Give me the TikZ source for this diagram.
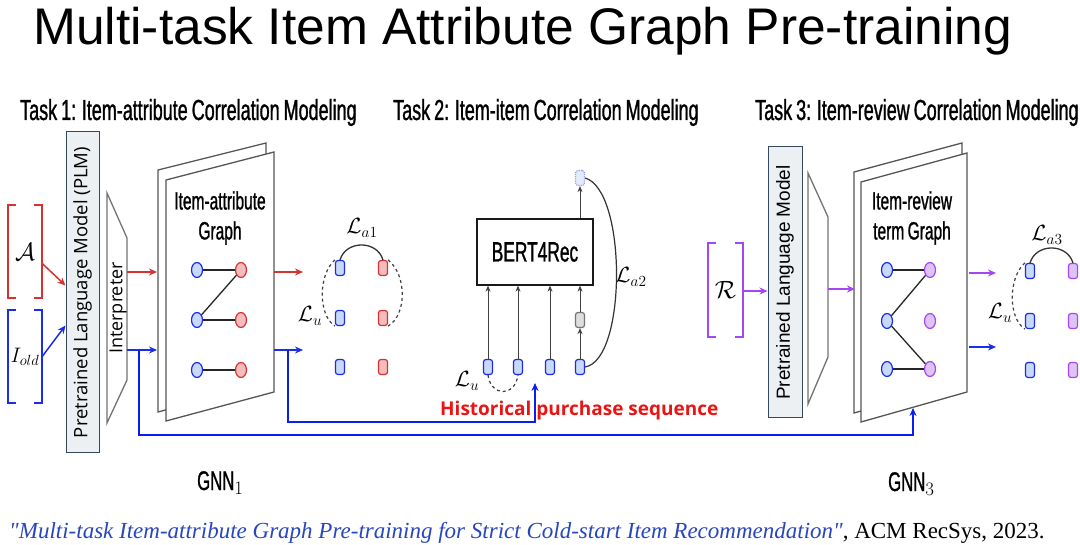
\RequirePackage{fix-cm}
\documentclass[tikz,border=0pt]{standalone}
\usepackage{amsmath}
\usepackage{fontspec}
\usepackage{xcolor}
\setmainfont{Liberation Serif}
\setsansfont{Liberation Sans}
\newfontfamily\narrowfont[FakeStretch=0.62, FakeBold=1, WordSpace=0.8]{Liberation Sans}
\newfontfamily\plmfont{Open Sans}
\usetikzlibrary{arrows.meta,positioning,shapes.geometric,calc}
\definecolor{attrred}{RGB}{214, 50, 50}
\definecolor{itemblue}{RGB}{25, 45, 235}
\definecolor{linkblue}{RGB}{10, 30, 240}
\definecolor{reviewpurple}{RGB}{165, 70, 245}
\definecolor{plmgray}{RGB}{236, 240, 243}
\definecolor{plmedge}{RGB}{52, 73, 94}
\definecolor{pageedge}{RGB}{85, 85, 85}
\definecolor{itemfill}{RGB}{200, 216, 246}
\definecolor{attrfill}{RGB}{244, 188, 188}
\definecolor{reviewfill}{RGB}{222, 196, 246}
\definecolor{maskgray}{RGB}{222, 222, 222}
\definecolor{citeblue}{RGB}{40, 70, 190}
\definecolor{histred}{RGB}{235, 20, 20}
\tikzstyle{arrow} = [
    line width=1.5pt,
    -{Stealth[length=8pt, width=7pt]}
]
\tikzstyle{seqarrow} = [
    line width=1pt,
    draw=black!75,
    -{Stealth[length=6pt, width=5pt]}
]
\tikzstyle{heading} = [
    inner sep=0,
    anchor=base west,
    font=\narrowfont\fontsize{29}{29}\selectfont
]
\tikzstyle{plm} = [
    rectangle,
    rotate=90,
    draw=plmedge,
    fill=plmgray,
    line width=1pt,
    inner sep=0,
    font=\plmfont\fontsize{18.5}{18.5}\selectfont
]
\tikzstyle{page} = [draw=pageedge, fill=white, line width=1.3pt]
\tikzstyle{gnode} = [
    ellipse,
    minimum width=11pt,
    minimum height=15pt,
    inner sep=0,
    line width=1.2pt
]
\tikzstyle{emb} = [
    rectangle,
    rounded corners=2.5pt,
    minimum width=9pt,
    minimum height=15pt,
    inner sep=0,
    line width=1.2pt
]
\tikzstyle{edge} = [line width=1.3pt, draw=black!85]
\tikzstyle{loss} = [inner sep=0, font=\fontsize{22}{22}\selectfont]
\tikzstyle{bracket} = [line width=1.5pt]
\tikzstyle{setbox} = [inner sep=0, font=\fontsize{25}{25}\selectfont]

\begin{document}
\begin{tikzpicture}[x=1pt, y=-1pt]
    \fill[white] (0,0) rectangle (1080,545);
    \useasboundingbox (0,0) rectangle (1080,545);

    % title and task headings
    \node[anchor=base west, inner sep=0, font=\sffamily\fontsize{51.5}{51.5}\selectfont] (title) at (33,45) {Multi-task Item Attribute Graph Pre-training};
    \node[heading] (task1) at (20,120) {Task 1: Item-attribute Correlation Modeling};
    \node[heading] (task2) at (393,120) {Task 2: Item-item Correlation Modeling};
    \node[heading] (task3) at (755,120) {Task 3: Item-review Correlation Modeling};

    % ---- task 1 ----
    \node[setbox, minimum width=34pt, minimum height=93pt] (attrs) at (25,251.5) {$\mathcal{A}$};
    \node[setbox, minimum width=34pt, minimum height=93pt, font=\fontsize{21}{21}\selectfont] (iold) at (25,356.5) {$I_{old}$};
    \draw[bracket, attrred] ($(attrs.north west)+(8,0)$) -| (attrs.south west) -- ++(8,0);
    \draw[bracket, attrred] ($(attrs.north east)+(-8,0)$) -| (attrs.south east) -- ++(-8,0);
    \draw[bracket, itemblue] ($(iold.north west)+(8,0)$) -| (iold.south west) -- ++(8,0);
    \draw[bracket, itemblue] ($(iold.north east)+(-8,0)$) -| (iold.south east) -- ++(-8,0);

    \node[plm, minimum width=321pt, minimum height=33pt] (plm1) at (82.5,292.5) {Pretrained Language Model (PLM)};
    \draw[arrow, attrred] ($(attrs.east)+(0,12)$) -- ($(plm1.north)+(0,-7)$);
    \draw[arrow, itemblue] (iold.east) -- ($(plm1.north)+(0,33)$);

    \draw[page, draw=black!55, fill=white] (107,193) -- (127,238) -- (127,380) -- (107,423) -- cycle;
    \node[rotate=90, inner sep=0, font=\plmfont\fontsize{18}{18}\selectfont] (interp1) at (118,308) {Interpreter};

    \draw[page] (158,170) -- (266,143) -- (266,383) -- (158,412) -- cycle;
    \draw[page] (166,180) -- (274,152) -- (274,392) -- (166,421) -- cycle;
    \node[align=center, inner sep=0, font=\narrowfont\fontsize{25}{30}\selectfont] (graph1) at (220,218) {Item-attribute\\Graph};

    \coordinate (int1r) at (127,272);
    \coordinate (int1b) at (127,350);
    \coordinate (gnn1r) at (157,272);
    \coordinate (gnn1b) at (157,350);
    \coordinate (out1r) at (274,272);
    \coordinate (out1b) at (274,350);
    \coordinate (emb1r) at (303,272);
    \coordinate (emb1b) at (303,350);
    \draw[arrow, attrred] (int1r) -- (gnn1r);
    \draw[arrow, itemblue] (int1b) -- (gnn1b);
    \draw[arrow, attrred] (out1r) -- (emb1r);
    \draw[arrow, itemblue] (out1b) -- (emb1b);

    \foreach \r/\y in {1/270, 2/320, 3/370} {
        \node[gnode, draw=itemblue, fill=itemfill] (ga\r) at (197,\y) {};
        \node[gnode, draw=attrred, fill=attrfill] (gb\r) at (241,\y) {};
    }
    \draw[edge] (ga1) -- (gb1);
    \draw[edge] (gb1) -- (ga2);
    \draw[edge] (ga2) -- (gb2);
    \draw[edge] (ga3) -- (gb3);

    \foreach \r/\y in {1/268, 2/318, 3/367} {
        \node[emb, draw=itemblue, fill=itemfill] (ea\r) at (340,\y) {};
        \node[emb, draw=attrred, fill=attrfill] (eb\r) at (383,\y) {};
    }
    \draw[line width=1.3pt, black!80] (ea1.north) .. controls (346,240) and (377,240) .. (eb1.north);
    \draw[line width=1.2pt, black!75, dashed] (ea1.north west) .. controls (318,275) and (318,315) .. (ea2.south west);
    \draw[line width=1.2pt, black!75, dashed] (eb1.north east) .. controls (407,275) and (407,315) .. (eb2.south east);
    \node[loss] (la1) at (362,228) {$\mathcal{L}_{a1}$};
    \node[loss] (lu1) at (310,316) {$\mathcal{L}_{u}$};

    % ---- task 2 ----
    \node[rectangle, draw=black!90, line width=1.3pt, minimum width=116pt, minimum height=66pt, font=\narrowfont\fontsize{28}{28}\selectfont] (bert) at (535,252) {BERT4Rec};
    \foreach \i/\x in {1/488, 2/518, 3/550, 4/580} {
        \node[emb, draw=itemblue, fill=itemfill] (s\i) at (\x,367) {};
    }
    \node[emb, draw=black!55, fill=maskgray] (mask) at (580,320) {};
    \node[emb, draw=itemblue!45, fill=itemfill!50, densely dotted] (pred) at (580,178) {};
    \draw[seqarrow] (s1) -- (s1 |- bert.south);
    \draw[seqarrow] (s2) -- (s2 |- bert.south);
    \draw[seqarrow] (s3) -- (s3 |- bert.south);
    \draw[seqarrow] (s4) -- (mask);
    \draw[seqarrow] (mask) -- (mask |- bert.south);
    \draw[seqarrow] (pred |- bert.north) -- (pred);
    \draw[line width=1.2pt, black!80] (pred.east) .. controls (627,190) and (627,360) .. (s4.east);
    \draw[line width=1.2pt, black!75, dashed] (s1.south) .. controls (491,397) and (515,397) .. (s2.south);
    \node[loss] (la2) at (631,277) {$\mathcal{L}_{a2}$};
    \node[loss] (lu2) at (467,381) {$\mathcal{L}_{u}$};

    \node[anchor=base west, inner sep=0, text=histred, font=\plmfont\bfseries\fontsize{19}{19}\selectfont] (hist) at (440,416) {Historical purchase sequence};

    % blue links to task 2 and task 3
    \coordinate (split1) at (139,350);
    \coordinate (bus1) at (139,435);
    \coordinate (gnn3in) at (913,408);
    \coordinate (split2) at (288,350);
    \coordinate (bus2) at (288,422);
    \coordinate (seqin) at (535,383);
    \draw[arrow, linkblue] (split1) -- (bus1) -| (gnn3in);
    \draw[arrow, linkblue] (split2) -- (bus2) -| (seqin);

    % ---- task 3 ----
    \node[setbox, minimum width=35pt, minimum height=94pt] (revs) at (725.5,290) {$\mathcal{R}$};
    \draw[bracket, reviewpurple] ($(revs.north west)+(8,0)$) -| (revs.south west) -- ++(8,0);
    \draw[bracket, reviewpurple] ($(revs.north east)+(-8,0)$) -| (revs.south east) -- ++(-8,0);

    \node[plm, minimum width=271pt, minimum height=34pt, font=\sffamily\fontsize{19}{19}\selectfont] (plm3) at (785,282.5) {Pretrained Language Model};
    \draw[arrow, reviewpurple] ($(revs.east)+(0,1)$) -- ($(plm3.north)+(0,8.5)$);

    \draw[page, draw=black!55, fill=white] (808,173) -- (828,217) -- (828,357) -- (808,404) -- cycle;

    \draw[page] (854,172) -- (962,143) -- (962,383) -- (854,413) -- cycle;
    \draw[page] (861,182) -- (967,153) -- (967,392) -- (861,422) -- cycle;
    \node[align=center, inner sep=0, font=\narrowfont\fontsize{25}{30}\selectfont] (graph3) at (912,218) {Item-review\\term Graph};

    \coordinate (int3r) at (828,289);
    \coordinate (gnn3r) at (855,289);
    \coordinate (out3r) at (969,273);
    \coordinate (out3b) at (969,347);
    \coordinate (emb3r) at (996,273);
    \coordinate (emb3b) at (996,347);
    \draw[arrow, reviewpurple] (int3r) -- (gnn3r);
    \draw[arrow, reviewpurple] (out3r) -- (emb3r);
    \draw[arrow, itemblue] (out3b) -- (emb3b);

    \foreach \r/\y in {1/270, 2/321, 3/369} {
        \node[gnode, draw=itemblue, fill=itemfill] (ha\r) at (887,\y) {};
        \node[gnode, draw=reviewpurple, fill=reviewfill] (hb\r) at (930,\y) {};
    }
    \draw[edge] (ha1) -- (hb1);
    \draw[edge] (hb1) -- (ha2);
    \draw[edge] (ha2) -- (hb3);
    \draw[edge] (ha3) -- (hb3);

    \foreach \r/\y in {1/271, 2/321, 3/370} {
        \node[emb, draw=itemblue, fill=itemfill] (fa\r) at (1030,\y) {};
        \node[emb, draw=reviewpurple, fill=reviewfill] (fb\r) at (1073,\y) {};
    }
    \draw[line width=1.3pt, black!80] (fa1.north) .. controls (1036,243) and (1067,243) .. (fb1.north);
    \draw[line width=1.2pt, black!75, dashed] (fa1.north west) .. controls (1008,278) and (1008,318) .. (fa2.south west);
    \node[loss] (la3) at (1047,235) {$\mathcal{L}_{a3}$};
    \node[loss] (lu3) at (1000,313) {$\mathcal{L}_{u}$};

    % model names and reference
    \node[anchor=base west, inner sep=0, font=\narrowfont\fontsize{27}{27}\selectfont] (gnn1) at (197,490) {GNN$_1$};
    \node[anchor=base west, inner sep=0, font=\narrowfont\fontsize{27}{27}\selectfont] (gnn3) at (888,491) {GNN$_3$};
    \node[anchor=base west, inner sep=0, font=\rmfamily\fontsize{23}{23}\selectfont] (cite) at (9,538) {{\color{citeblue}\itshape \textquotedbl Multi-task Item-attribute Graph Pre-training for Strict Cold-start Item Recommendation\textquotedbl}, ACM RecSys, 2023.};
\end{tikzpicture}
\end{document}
